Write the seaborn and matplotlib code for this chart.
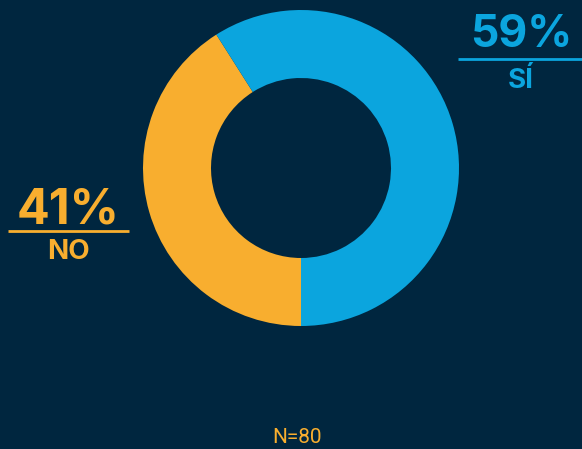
import numpy as np
import matplotlib
matplotlib.use("Agg")
import matplotlib.pyplot as plt
import seaborn as sns

# data
labels = ["NO", "SÍ"]
shares = [41, 59]
colors = ["#f8ae2f", "#0ba5de"]
sample_note = "N=80"

BG = "#00263f"
W, H = 582, 449

sns.set_theme(style="white")
plt.rcParams["font.family"] = ["Inter", "DejaVu Sans"]

fig = plt.figure(figsize=(W / 100, H / 100), dpi=100, facecolor=BG)
ax = fig.add_axes([0, 0, 1, 1])
ax.set_facecolor(BG)

# donut: orange runs clockwise from the bottom, blue takes the rest
ax.pie(shares, colors=colors, startangle=270, counterclock=False,
       center=(301, H - 168), radius=158,
       wedgeprops={"width": 68, "linewidth": 0})
ax.set_xlim(0, W)
ax.set_ylim(0, H)
ax.set_aspect("equal")
ax.axis("off")

# big percentage callouts
def callout(x, y_num, y_line, x0, x1, y_lab, share, label, color, size):
    ax.text(x, H - y_num, f"{share}%", color=color, fontsize=size,
            fontweight="bold", ha="center", va="baseline")
    ax.plot([x0, x1], [H - y_line, H - y_line], color=color, lw=2,
            solid_capstyle="butt")
    ax.text(x, H - y_lab, label, color=color, fontsize=20,
            fontweight="bold", ha="center", va="baseline")

callout(521, 47, 59, 458, 582, 88, shares[1], labels[1], colors[1], 32)
callout(68, 224, 231, 8, 129, 259, shares[0], labels[0], colors[0], 35)

ax.text(297, H - 443, sample_note, color=colors[0], fontsize=15,
        ha="center", va="baseline", family=["Roboto", "DejaVu Sans"])

fig.savefig("out.png", dpi=100, facecolor=BG)
